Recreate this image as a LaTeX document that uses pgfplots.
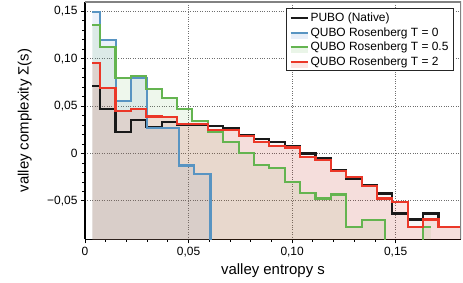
\documentclass[border=0pt]{standalone}
\usepackage{fontspec}
\setmainfont{Liberation Sans}
\usepackage{pgfplots}
\usepackage{pgfplotstable}
\pgfplotsset{compat=1.18}
\definecolor{cblack}{RGB}{25,25,25}
\definecolor{cblue}{RGB}{88,148,194}
\definecolor{cgreen}{RGB}{100,180,80}
\definecolor{cred}{RGB}{235,55,40}
\definecolor{fblue}{RGB}{74,127,208}
\definecolor{fgreen}{RGB}{100,180,80}
\definecolor{fred}{RGB}{235,55,40}
\definecolor{gridc}{RGB}{110,110,110}
\definecolor{framec}{RGB}{130,130,130}

\pgfplotstableread{
x y
0.00358 0.0710
0.00731 0.0467
0.01473 0.0222
0.02216 0.0351
0.02958 0.0280
0.03701 0.0327
0.04444 0.0300
0.05186 0.0300
0.05929 0.0291
0.06671 0.0270
0.07414 0.0193
0.08157 0.0148
0.08899 0.0122
0.09642 0.0077
0.10385 0.0000
0.11127 -0.0053
0.11870 -0.0176
0.12613 -0.0264
0.13355 -0.0330
0.14098 -0.0422
0.14840 -0.0633
0.15583 -0.0696
0.16326 -0.0633
0.17068 -0.0780
0.18152 -0.0780
}\tblblack

\pgfplotstableread{
x y
0.00358 0.1487
0.00721 0.1195
0.01495 0.0552
0.02221 0.0800
0.02975 0.0264
0.04523 -0.0127
0.05283 -0.0215
0.06057 -0.1200
0.06420 -0.1200
}\tblblue

\pgfplotstableread{
x y
0.00358 0.1353
0.00731 0.1125
0.01473 0.0798
0.02216 0.0815
0.02958 0.0678
0.03701 0.0587
0.04444 0.0465
0.05186 0.0341
0.05929 0.0228
0.06671 0.0122
0.07414 0.0008
0.08157 -0.0123
0.08899 -0.0158
0.09642 -0.0300
0.10385 -0.0415
0.11127 -0.0475
0.11870 -0.0433
0.12613 -0.0774
0.13355 -0.0700
0.14468 -0.1200
0.16326 -0.0774
0.16696 -0.0774
}\tblgreen

\pgfplotstableread{
x y
0.00358 0.0949
0.00731 0.0692
0.01473 0.0446
0.02216 0.0464
0.02958 0.0390
0.03701 0.0380
0.04444 0.0306
0.05186 0.0306
0.05929 0.0246
0.06671 0.0246
0.07414 0.0182
0.08157 0.0122
0.08899 0.0077
0.09642 0.0063
0.10385 -0.0036
0.11127 -0.0071
0.11870 -0.0185
0.12613 -0.0247
0.13355 -0.0342
0.14098 -0.0475
0.14840 -0.0510
0.15583 -0.0780
0.16326 -0.0696
0.17068 -0.0780
0.18152 -0.0780
}\tblred

\begin{document}
\begin{tikzpicture}
\useasboundingbox (-85bp,-43.7bp) rectangle (378bp,239.3bp);
\begin{axis}[
 at={(0,0)}, anchor=south west,
 scale only axis, width=376bp, height=237.6bp,
 xmin=0, xmax=0.18152, ymin=-0.0905, ymax=0.16,
 axis x line*=bottom, axis y line*=left,
 axis line style={-, line width=1.1bp, black},
 xtick pos=left, ytick pos=left,
 xtick={0,0.05,0.1,0.15}, xticklabels={0,{0,05},{0,10},{0,15}},
 ytick={-0.05,0,0.05,0.1,0.15}, yticklabels={{−0,05},0,{0,05},{0,10},{0,15}},
 minor tick num=4,
 tick align=outside,
 major tick length=4bp, minor tick length=2.5bp,
 every tick/.style={black, line width=0.8bp},
 grid=major, major grid style={gridc, dotted, line width=0.9bp},
 tick label style={font=\fontsize{12}{14}\selectfont},
 xlabel={valley entropy s}, ylabel={valley complexity Σ(s)},
 label style={font=\fontsize{15}{18}\selectfont},
 ylabel style={at={(axis description cs:-0.16,0.5)}, anchor=center},
 legend cell align=left,
 legend style={at={(1,1)}, anchor=north east, xshift=-7bp, yshift=-6.6bp,
   draw=black!85, line width=1.1bp, fill=white,
   font=\fontsize{12}{14}\selectfont, inner xsep=3bp, inner ysep=2bp, row sep=0.5bp},
]
% fills
\addplot[const plot, draw=none, fill=black, fill opacity=0.03, forget plot] table {\tblblack} |- (axis cs:0.00358,-0.2) -- cycle;
\addplot[const plot, draw=none, fill=fblue, fill opacity=0.11, forget plot] table {\tblblue} |- (axis cs:0.00358,-0.2) -- cycle;
\addplot[const plot, draw=none, fill=fgreen, fill opacity=0.11, forget plot] table {\tblgreen} |- (axis cs:0.00358,-0.2) -- cycle;
\addplot[const plot, draw=none, fill=fred, fill opacity=0.13, forget plot] table {\tblred} |- (axis cs:0.00358,-0.2) -- cycle;
% lines
\addplot[const plot, cblack, line width=2.1bp, forget plot] table {\tblblack};
\addplot[const plot, cblue, line width=2.1bp, forget plot] table {\tblblue};
\addplot[const plot, cgreen, line width=2.1bp, forget plot] table {\tblgreen};
\addplot[const plot, cred, line width=2.1bp, forget plot] table {\tblred};
% frame top/right
\draw[framec, line width=1.8bp] (rel axis cs:0,1) -- (rel axis cs:1,1) -- (rel axis cs:1,0);
% legend
\addlegendimage{legend image code/.code={\draw[cblack, line width=2.1bp] (0bp,0bp) -- (17bp,0bp);}}
\addlegendentry{PUBO (Native)}
\addlegendimage{legend image code/.code={\path[draw=none, fill=fblue, fill opacity=0.13] (0bp,-6bp) rectangle (17bp,1bp); \draw[cblue, line width=2.1bp] (0bp,0bp) -- (17bp,0bp);}}
\addlegendentry{QUBO Rosenberg T = 0}
\addlegendimage{legend image code/.code={\path[draw=none, fill=fgreen, fill opacity=0.13] (0bp,-6bp) rectangle (17bp,1bp); \draw[cgreen, line width=2.1bp] (0bp,0bp) -- (17bp,0bp);}}
\addlegendentry{QUBO Rosenberg T = 0.5}
\addlegendimage{legend image code/.code={\path[draw=none, fill=fred, fill opacity=0.13] (0bp,-6bp) rectangle (17bp,1bp); \draw[cred, line width=2.1bp] (0bp,0bp) -- (17bp,0bp);}}
\addlegendentry{QUBO Rosenberg T = 2}
\end{axis}
\end{tikzpicture}
\end{document}
